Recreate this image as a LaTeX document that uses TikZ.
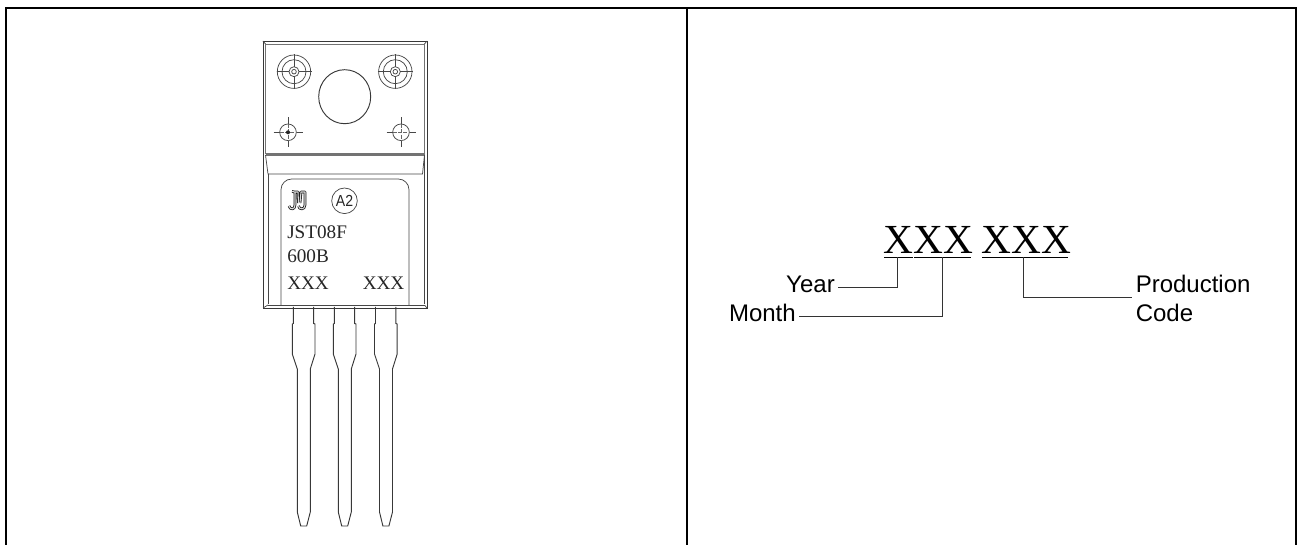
\documentclass[tikz,border=0pt]{standalone}
\usepackage{fontspec}
\usetikzlibrary{shapes.geometric}
\setmainfont{Liberation Serif}
\newfontfamily\arialf{Liberation Sans}
\tikzset{
  x=0.75pt,y=-0.75pt,
  pkg/.style={draw=black!78,line width=0.7pt,line join=miter},
  thin pkg/.style={draw=black!72,line width=0.55pt},
  band/.style={draw=black!55,line width=1.7pt},
  frameline/.style={draw=black,line width=1.5pt},
  serifl/.style={inner sep=0pt,anchor=base west,text=black!85,font=\fontsize{14.4pt}{14.4pt}\selectfont},
  sansl/.style={inner sep=0pt,font=\arialf\fontsize{18pt}{18pt}\selectfont},
  bigx/.style={inner sep=0pt,anchor=base west,font=\fontsize{31pt}{31pt}\selectfont},
  leader/.style={draw=black!80,line width=0.75pt},
  logoline/.style={draw=black!90,line width=0.6pt,double=black!15,double distance=0.8pt,line join=round}
}
\newcommand{\targetmark}[2]{%
  \draw[thin pkg] (#1,#2) circle (5) (#1,#2) circle (12) (#1,#2) circle (16.7);
  \draw[thin pkg] (#1,#2) circle (2.3);
  \draw[thin pkg] (#1-17.5,#2)--(#1-5,#2) (#1+5,#2)--(#1+17.5,#2) (#1,#2-17.5)--(#1,#2-5) (#1,#2+5)--(#1,#2+17.5);
}
\newcommand{\smallmark}[2]{%
  \draw[thin pkg] (#1,#2) circle (8.3);
  \draw[thin pkg] (#1-14.5,#2)--(#1-8.3,#2) (#1+8.3,#2)--(#1+14.5,#2) (#1,#2-15)--(#1,#2-8.3) (#1,#2+8.3)--(#1,#2+15);
  \draw[draw=black!60,line width=0.4pt,dash pattern=on 3pt off 1pt] (#1-8.3,#2)--(#1+8.3,#2) (#1,#2-8.3)--(#1,#2+8.3);
}
\newcommand{\pinlead}[1]{%
  \draw[pkg] (#1-10.2,307) -- (#1-10.2,323.5) -- (#1-11.2,324) -- (#1-11.2,354) -- (#1-6.2,369) -- (#1-6.2,512) -- (#1-2.8,526) -- (#1+3.2,526) -- (#1+6.8,512) -- (#1+6.8,369) -- (#1+11.5,354) -- (#1+11.5,324) -- (#1+10.2,323.5) -- (#1+10.2,307);
}
\begin{document}
\begin{tikzpicture}
\useasboundingbox (0,0) rectangle (1297,545);
\fill[white] (0,0) rectangle (1297,545);
% frame
\draw[frameline] (6,545) -- (6,7.7) -- (1295.7,7.7) -- (1295.7,545);
\draw[frameline] (687,7.7) -- (687,545);
% package body
\draw[pkg] (263,308) -- (263,41) -- (427,41) -- (427,308) -- cycle;
\draw[thin pkg,draw=black!55] (265.5,154) -- (265.5,44) -- (424.5,44) -- (424.5,154);
\draw[thin pkg] (263,41) -- (265.5,44) (427,41) -- (424.5,44);
\draw[band] (265.5,154.5) -- (424.5,154.5);
\draw[thin pkg] (265.5,155) -- (268,174) -- (422.5,174) -- (424.5,155);
\draw[thin pkg] (268,174) -- (268,304.5) (424.5,155) -- (424.5,304.5);
\draw[thin pkg] (268,305) -- (424.5,305);
\draw[thin pkg] (263,308) -- (268,305) (427,308) -- (424.5,305);
\draw[thin pkg,rounded corners=8] (281,305) -- (281,179) -- (409,179) -- (409,305);
% holes
\node[ellipse,draw=black!78,line width=.7pt,minimum width=39pt,minimum height=40.5pt,inner sep=0pt] (hole) at (344.7,96.7) {};
\targetmark{294}{71.7}
\targetmark{395.3}{71.7}
\smallmark{288}{132.3}
\smallmark{401}{132.3}
\fill[black!85] (288,132.3) circle (2);
% pins
\pinlead{303.5}
\pinlead{344.5}
\pinlead{385.7}
% logo and markings
\draw[logoline] (289,206) .. controls (290,210) and (295,210) .. (295,205) -- (295,192) -- (292,191.5) (295,192) -- (298,192) -- (298.5,203) (300,203) -- (301,192) -- (305,192) -- (305,205) .. controls (305,210) and (299,210) .. (298.5,206);
\node[circle,draw=black!72,line width=.55pt,minimum size=19.2pt,inner sep=0pt,text=black!85,font=\arialf\fontsize{12pt}{12pt}\selectfont] (a2) at (344.5,200.8) {\scalebox{.88}[1]{A2}};
\node[serifl] (t1) at (287,239) {JST08F};
\node[serifl] (t2) at (287,263) {600B};
\node[serifl] (t3) at (287,290) {XXX};
\node[serifl] (t4) at (362.5,290) {XXX};
% date code
\node[bigx] (c1) at (883.5,254) {XXX};
\node[bigx] (c2) at (981.5,254) {XXX};
\draw[black,line width=.75pt] (884,257.3)--(912.7,257.3) (914,257.3)--(970.5,257.3) (982,257.3)--(1067.5,257.3);
\node[sansl,anchor=base east] (year) at (835,293) {Year};
\node[sansl,anchor=base east] (month) at (796,322) {Month};
\node[sansl,anchor=base west] (prod) at (1135.5,293) {Production};
\node[sansl,anchor=base west] (code) at (1135.5,322) {Code};
\coordinate (yl) at (838,287.5);
\coordinate (yj) at (897.3,257.3);
\coordinate (ml) at (799,316.7);
\coordinate (mj) at (942,257.3);
\coordinate (pl) at (1131.7,297.7);
\coordinate (pj) at (1023.5,257.3);
\draw[leader] (yl) -| (yj);
\draw[leader] (ml) -| (mj);
\draw[leader] (pl) -| (pj);
\end{tikzpicture}
\end{document}
